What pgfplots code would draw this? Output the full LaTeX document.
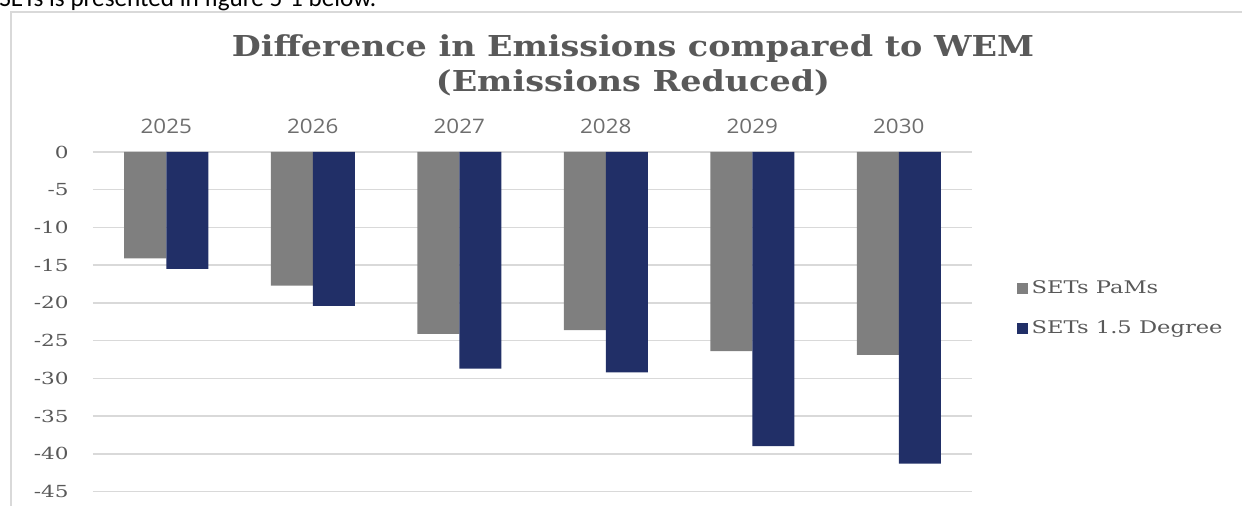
\documentclass[border=0pt]{standalone}
\usepackage{pgfplots}
\pgfplotsset{compat=1.18}
\usepackage{fontspec}
\setmainfont{DejaVu Serif}
\newfontfamily\titlefont[FakeStretch=1.16]{DejaVu Serif}
\newfontfamily\serifw[FakeStretch=1.3]{DejaVu Serif}
\newfontfamily\sansf[FakeStretch=1.12]{Open Sans}
\newfontfamily\bodyf{Carlito}

\definecolor{pams}{RGB}{127,127,127}
\definecolor{deg}{RGB}{33,47,103}
\definecolor{txtgray}{RGB}{89,89,89}
\definecolor{yeargray}{RGB}{110,110,110}
\definecolor{gridgray}{RGB}{217,217,217}

\begin{document}
\begin{tikzpicture}
\useasboundingbox (0pt,0pt) rectangle (621pt,-253pt);
\clip (0pt,0pt) rectangle (621pt,-253pt);
% frame of the chart
\draw[gridgray, line width=0.6pt] (5.5pt,-270pt) -- (5.5pt,-6pt) -- (640pt,-6pt);
% line of body text above the chart, cut by the top edge
\node[anchor=base west, inner sep=0pt, font=\bodyf\fontsize{12.6}{15}\selectfont] at (-0.5pt,-3.3pt) {SETs is presented in figure 5-1 below.};
% title
\node[anchor=base, inner sep=0pt, text=txtgray, font=\titlefont\bfseries\fontsize{14.4}{17}\selectfont] at (316.5pt,-28.5pt) {Difference in Emissions compared to WEM};
\node[anchor=base, inner sep=0pt, text=txtgray, font=\titlefont\bfseries\fontsize{14.4}{17}\selectfont] at (316.5pt,-46pt) {(Emissions Reduced)};

\begin{axis}[
    at={(46.5pt,-76pt)}, anchor=north west,
    scale only axis, width=439.5pt, height=169.75pt,
    ybar=0pt, bar width=21pt,
    xmin=-0.5, xmax=5.5, ymin=-45, ymax=0,
    xtick={0,1,2,3,4,5},
    xticklabels={2025,2026,2027,2028,2029,2030},
    xticklabel pos=upper,
    xticklabel style={anchor=south, inner sep=0pt, yshift=9pt, text=yeargray, font=\sansf\fontsize{10}{12}\selectfont},
    ytick={0,-5,-10,-15,-20,-25,-30,-35,-40,-45},
    yticklabels={0,-5,-10,-15,-20,-25,-30,-35,-40,-45},
    yticklabel style={anchor=east, inner sep=0pt, xshift=-12pt, text=txtgray, font=\serifw\fontsize{8.3}{10}\selectfont},
    major tick length=0pt,
    axis line style={draw=none},
    ymajorgrids,
    grid style={gridgray, line width=0.75pt},
    legend style={at={(1.051,0.539)}, anchor=west, draw=none, fill=none,
        inner sep=0pt, row sep=8.2pt, text=txtgray,
        font=\serifw\fontsize{8.7}{10}\selectfont,
        legend cell align=left},
]
\addplot[fill=pams, draw=none,
    legend image code/.code={\fill[pams] (0pt,-2.6pt) rectangle (5.2pt,2.6pt);}]
    coordinates {(0,-14.1) (1,-17.7) (2,-24.1) (3,-23.6) (4,-26.4) (5,-26.9)};
\addplot[fill=deg, draw=none,
    legend image code/.code={\fill[deg] (0pt,-2.6pt) rectangle (5.2pt,2.6pt);}]
    coordinates {(0,-15.5) (1,-20.4) (2,-28.7) (3,-29.2) (4,-39.0) (5,-41.3)};
\legend{SETs PaMs, SETs 1.5 Degree}
\end{axis}
\end{tikzpicture}
\end{document}
